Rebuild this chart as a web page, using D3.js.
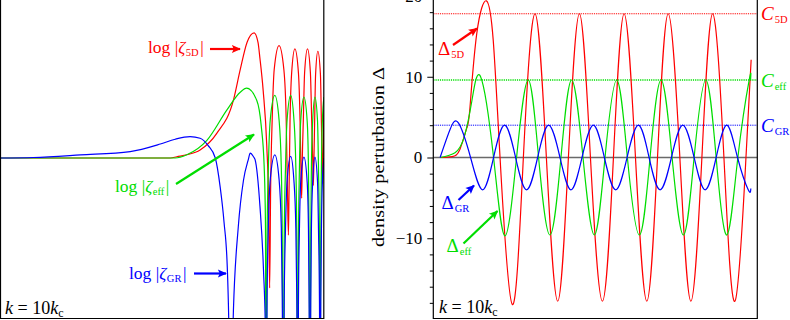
<!DOCTYPE html>
<html><head><meta charset="utf-8">
<script src="https://cdn.jsdelivr.net/npm/d3@7"></script>
<style>
body{margin:0;background:#fff;}
svg{display:block;}
text{font-family:"Liberation Serif","DejaVu Serif",serif;}
</style>
</head><body>
<svg id="chart" width="790" height="320"></svg>
<script>
// ---------- LEFT PANEL DATA: [time (0-100), log10|zeta|] ----------
const leftRed = [[0,0],[52.5,0],[54.5,0.008],[57.6,0.02],[61.7,0.05],[66.9,0.155],[72.0,0.36],[74.1,0.55],[76.2,0.72],[78.4,0.78],
 [79.6,0.72],[80.2,0.62],[81.2,0.42],[82.3,0.08],[82.9,-0.3],[83.2,-0.81],[83.5,-0.2],[84.0,0.25],[84.6,0.55],[86.1,0.70],
 [87.6,0.55],[88.3,0.25],[88.7,-0.2],[89.0,-0.48],[89.2,-0.2],[89.5,0.23],[90.0,0.53],[91.0,0.68],[92.1,0.53],[92.6,0.23],
 [92.9,-0.1],[93.1,-0.25],[93.3,0.0],[93.6,0.23],[94.0,0.53],[94.9,0.68],[95.8,0.53],[96.2,0.23],[96.5,0.0],[96.7,-0.17],
 [96.9,0.0],[97.1,0.22],[97.4,0.52],[98.1,0.665],[98.9,0.52],[99.2,0.22],[99.4,0.0],[99.6,-0.16],[99.8,0.1],[100,0.3]];
const leftEff = [[0,0],[54.0,0],[57.6,0.02],[63.8,0.11],[70.0,0.30],[74.1,0.41],[76.1,0.435],[79.2,0.36],[80.6,0.2],[81.5,-0.05],
 [81.9,-0.4],[82.1,-1.8],[82.4,-0.51],[82.8,-0.06],[83.4,0.24],[84.8,0.39],[86.1,0.24],[86.8,-0.06],[87.1,-0.51],[87.4,-1.8],
 [87.7,-0.51],[88.1,-0.06],[88.6,0.24],[89.7,0.39],[90.7,0.24],[91.3,-0.06],[91.6,-0.51],[91.9,-1.8],
 [92.1,-0.52],[92.4,-0.07],[92.8,0.23],[93.8,0.38],[94.8,0.23],[95.2,-0.07],[95.4,-0.52],[95.7,-1.8],
 [95.9,-0.52],[96.1,-0.07],[96.5,0.23],[97.2,0.38],[98.0,0.23],[98.3,-0.07],[98.6,-0.52],[98.8,-1.8],
 [99.0,-0.52],[99.2,-0.07],[99.5,0.23],[100,0.38]];
const leftGR = [[0,0],[10.2,0.003],[24.7,0.019],[40.1,0.04],[49.4,0.087],[54.0,0.117],[58.6,0.133],[61.7,0.123],[64.2,0.077],
 [66.4,0.0],[67.9,-0.18],[69.1,-0.4],[70.1,-0.68],[70.7,-1.2],[71.0,-1.8],[72.0,-0.95],[73.5,-0.43],[75.1,-0.14],[76.6,-0.01],
 [77.2,0.03],[78.2,0.008],[78.7,-0.01],[80.2,-0.3],[81.3,-0.7],[81.9,-1.1],[82.1,-1.8],
 [82.4,-0.88],[82.8,-0.43],[83.4,-0.13],[84.8,0.02],[86.1,-0.13],[86.8,-0.43],[87.1,-0.88],[87.4,-1.8],
 [87.7,-0.89],[88.1,-0.44],[88.6,-0.14],[89.7,0.01],[90.7,-0.14],[91.3,-0.44],[91.6,-0.89],[91.9,-1.8],
 [92.1,-0.9],[92.4,-0.45],[92.8,-0.15],[93.8,0.005],[94.8,-0.15],[95.2,-0.45],[95.4,-0.9],[95.7,-1.8],
 [95.9,-0.9],[96.1,-0.45],[96.5,-0.15],[97.2,0.005],[98.0,-0.15],[98.3,-0.45],[98.6,-0.9],[98.8,-1.8],
 [99.0,-0.9],[99.2,-0.45],[99.5,-0.15],[100,0.0]];

// ---------- RIGHT PANEL DATA: [time (0-10), Delta] ----------
const rightRed = [[0.21,0],[0.58,0.1],[0.82,1.0],[1.03,3.6],[1.13,6.1],[1.34,15.3],[1.64,19.4],[1.85,14.5],[2.06,0],
 [2.44,-18.2],[2.78,0],[3.14,17.8],[3.49,0],[3.84,-17.8],[4.17,0],[4.51,17.8],[4.85,0],[5.22,-17.8],[5.56,0],[5.89,17.8],
 [6.24,0],[6.59,-17.8],[6.92,0],[7.25,17.8],[7.61,0],[7.95,-17.8],[8.29,0],[8.62,17.8],[8.97,0],[9.31,-17.8],[9.65,0],[9.81,12.1]];
const rightEff = [[0.21,0],[0.67,0.6],[0.95,2.5],[1.19,7.0],[1.46,10.0],[1.86,0],[2.21,-9.7],[2.57,0],[2.93,9.6],[3.25,0],
 [3.60,-9.6],[3.94,0],[4.27,9.6],[4.62,0],[4.97,-9.6],[5.30,0],[5.66,9.6],[5.99,0],[6.36,-9.6],[6.69,0],[7.03,9.6],[7.37,0],
 [7.72,-9.6],[8.05,0],[8.41,9.6],[8.73,0],[9.06,-9.6],[9.40,0],[9.75,9.6],[9.79,9.55]];
const rightGR = [[0.21,0],[0.52,3.5],[0.78,4.25],[1.15,0],[1.52,-4.0],[1.86,0],[2.20,4.0],[2.54,0],[2.88,-4.0],[3.22,0],
 [3.56,4.0],[3.91,0],[4.25,-4.0],[4.59,0],[4.94,4.0],[5.28,0],[5.63,-4.0],[5.98,0],[6.33,4.0],[6.66,0],[7.00,-4.0],[7.35,0],
 [7.70,4.0],[8.05,0],[8.39,-4.0],[8.73,0],[9.06,4.0],[9.39,0],[9.72,-4.0],[9.80,-3.85]];
const ampNames = ["5D","eff","GR"];
const ampValues = [17.8, 9.6, 4.0];
const majorTicks = [-10, 0, 10, 20];
const minorTicks = [-18,-16,-14,-12,-8,-6,-4,-2,2,4,6,8,12,14,16,18];

const RED="#ff0000", GREEN="#00dd00", BLUE="#0000ff";
const colors = {"5D":RED, eff:GREEN, GR:BLUE};

const svg = d3.select("#chart");
const defs = svg.append("defs");
[["red",RED],["green",GREEN],["blue",BLUE]].forEach(([n,c])=>{
  defs.append("marker").attr("id","ar-"+n).attr("viewBox","0 0 10 10")
    .attr("refX",9).attr("refY",5).attr("markerWidth",10).attr("markerHeight",9)
    .attr("markerUnits","userSpaceOnUse").attr("orient","auto")
    .append("path").attr("d","M0,0.5 L10,5 L0,9.5 L2,5 z").attr("fill",c);
});

// ================= LEFT PANEL =================
const xL = d3.scaleLinear().domain([0,100]).range([0.5,324]);
const yL = d3.scaleLinear().domain([-1,1]).range([318.5,-2.5]);
defs.append("clipPath").attr("id","clipL").append("rect").attr("x",0.5).attr("y",-5).attr("width",323.5).attr("height",323.5);
const gL = svg.append("g");
const lineL = d3.line().x(d=>xL(d[0])).y(d=>yL(d[1])).curve(d3.curveMonotoneX);
const cl = gL.append("g").attr("clip-path","url(#clipL)");
[[leftRed,RED],[leftEff,GREEN],[leftGR,BLUE]].forEach(([d,c])=>{
  cl.append("path").datum(d).attr("d",lineL).attr("fill","none").attr("stroke",c).attr("stroke-width",1.2);
});
gL.append("path").attr("d","M0.5,-1V318.5H323.8V-1").attr("fill","none").attr("stroke","#000").attr("stroke-width",1.2);

function logLabel(g, x, y, sub, color){
  const t = g.append("text").attr("x",x).attr("y",y).attr("fill",color).attr("font-size",17.5);
  t.append("tspan").text("log |");
  t.append("tspan").attr("font-style","italic").text("ζ");
  t.append("tspan").attr("font-size",10.5).attr("dy",3).attr("dx",0.5).text(sub);
  t.append("tspan").attr("dy",-3).attr("dx",1.5).text("|");
}
function arrow(g, x1,y1,x2,y2, name, color){
  g.append("line").attr("x1",x1).attr("y1",y1).attr("x2",x2).attr("y2",y2)
    .attr("stroke",color).attr("stroke-width",2.2).attr("marker-end","url(#ar-"+name+")");
}
logLabel(gL,148,53,"5D",RED);
arrow(gL,210,49,240,49,"red",RED);
logLabel(gL,115,191.5,"eff",GREEN);
arrow(gL,176,184,254,134.5,"green",GREEN);
logLabel(gL,129,278.5,"GR",BLUE);
arrow(gL,194,273.5,226,273.5,"blue",BLUE);

function kLabel(g,x,y){
  const t = g.append("text").attr("x",x).attr("y",y).attr("fill","#000").attr("font-size",18);
  t.append("tspan").attr("font-style","italic").text("k");
  t.append("tspan").text(" = 10");
  t.append("tspan").attr("font-style","italic").text("k");
  t.append("tspan").attr("font-size",12).attr("dy",2.5).text("c");
}
kLabel(gL,5,314);

// ================= RIGHT PANEL =================
const xR = d3.scaleLinear().domain([0,10]).range([433.3,757.3]);
const yR = d3.scaleLinear().domain([-20,20]).range([319,-4]);
defs.append("clipPath").attr("id","clipR").append("rect").attr("x",433.3).attr("y",-5).attr("width",324).attr("height",323.5);
const gR = svg.append("g");
const cr = gR.append("g").attr("clip-path","url(#clipR)");

// amplitude dotted lines
ampNames.forEach((n,i)=>{
  cr.append("line").attr("x1",xR(0)).attr("x2",xR(10)).attr("y1",yR(ampValues[i])).attr("y2",yR(ampValues[i]))
    .attr("stroke",colors[n]).attr("stroke-width",n==="eff"?1.3:1).attr("stroke-dasharray","1.2,1");
});
// zero line
cr.append("line").attr("x1",xR(0)).attr("x2",xR(10)).attr("y1",yR(0)).attr("y2",yR(0))
  .attr("stroke","#6a6a6a").attr("stroke-width",1.6);

const lineR = d3.line().x(d=>xR(d[0])).y(d=>yR(d[1])).curve(d3.curveNatural);
[[rightRed,RED],[rightEff,GREEN],[rightGR,BLUE]].forEach(([d,c])=>{
  cr.append("path").datum(d).attr("d",lineR).attr("fill","none").attr("stroke",c).attr("stroke-width",1.2);
});

// axes
const axMajor = gR.append("g").attr("transform",`translate(${xR(0)},0)`)
  .call(d3.axisLeft(yR).tickValues(majorTicks).tickSize(6).tickPadding(5)
    .tickFormat(d=> d<0 ? "\u2212"+Math.abs(d) : String(d)));
axMajor.attr("font-family",null);
axMajor.select(".domain").remove();
axMajor.selectAll("text").attr("font-size",17).attr("fill","#000");
axMajor.selectAll("line").attr("stroke","#000");
const axMinor = gR.append("g").attr("transform",`translate(${xR(0)},0)`)
  .call(d3.axisLeft(yR).tickValues(minorTicks).tickSize(3.5).tickFormat(""));
axMinor.select(".domain").remove();
axMinor.selectAll("line").attr("stroke","#000");

gR.append("path").attr("d",`M${xR(0)},-1V318.5H${xR(10)}V-1`).attr("fill","none").attr("stroke","#000").attr("stroke-width",1.2);

// y-axis title
gR.append("text").attr("transform","translate(384,157) rotate(-90)").attr("text-anchor","middle")
  .attr("font-size",17.5).attr("textLength",180).attr("lengthAdjust","spacingAndGlyphs").attr("fill","#000")
  .text("density perturbation \u0394");

// right side amplitude labels
const cLabelY = {"5D":20, eff:87, GR:131.5};
ampNames.forEach(n=>{
  const t = gR.append("text").attr("x",761).attr("y",cLabelY[n]).attr("fill",colors[n]).attr("font-size",19);
  t.append("tspan").attr("font-style","italic").text("C");
  t.append("tspan").attr("font-size",10.5).attr("dy",3).attr("dx",1).text(n);
});

function deltaLabel(g,x,y,sub,color){
  const t = g.append("text").attr("x",x).attr("y",y).attr("fill",color).attr("font-size",19);
  t.append("tspan").text("\u0394");
  t.append("tspan").attr("font-size",10.5).attr("dy",3).attr("dx",1).text(sub);
}
deltaLabel(gR,438,55,"5D",RED);
arrow(gR,453,45,477,28.5,"red",RED);
deltaLabel(gR,441.5,209,"GR",BLUE);
arrow(gR,458.5,200,474,185.5,"blue",BLUE);
deltaLabel(gR,446.5,251.5,"eff",GREEN);
arrow(gR,463.5,243.5,497.5,211,"green",GREEN);

kLabel(gR,439,313);
</script>
</body></html>
